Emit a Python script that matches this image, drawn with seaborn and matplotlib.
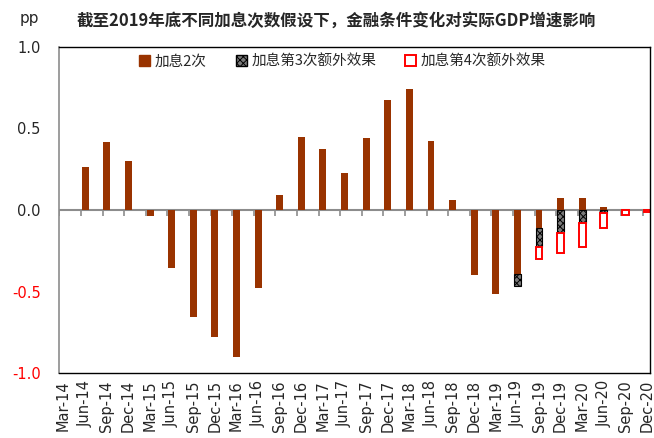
import numpy as np
import pandas as pd
import matplotlib
matplotlib.use("Agg")
import matplotlib.pyplot as plt
from matplotlib.patches import Patch
import seaborn as sns

# -----------------------------
# Data (pp)
# -----------------------------
quarters = ["Mar-14", "Jun-14", "Sep-14", "Dec-14",
            "Mar-15", "Jun-15", "Sep-15", "Dec-15",
            "Mar-16", "Jun-16", "Sep-16", "Dec-16",
            "Mar-17", "Jun-17", "Sep-17", "Dec-17",
            "Mar-18", "Jun-18", "Sep-18", "Dec-18",
            "Mar-19", "Jun-19", "Sep-19", "Dec-19",
            "Mar-20", "Jun-20", "Sep-20", "Dec-20"]

hike_2 = [0.0, 0.262, 0.415, 0.300,
          -0.035, -0.358, -0.658, -0.779,
          -0.902, -0.480, 0.092, 0.448,
          0.372, 0.225, 0.440, 0.673,
          0.744, 0.423, 0.060, -0.399,
          -0.517, -0.395, -0.112, 0.072,
          0.072, 0.020, 0.0, 0.0]

extra_3rd = [0.0] * 21 + [-0.070, -0.113, -0.139, -0.078, -0.020, 0.0, 0.0]

extra_4th = [0.0] * 22 + [-0.075, -0.125, -0.147, -0.090, -0.030, -0.010]

y_ticks = [-1.0, -0.5, 0.0, 0.5, 1.0]

title = "截至2019年底不同加息次数假设下，金融条件变化对实际GDP增速影响"
legend_labels = ["加息2次", "加息第3次额外效果", "加息第4次额外效果"]

brown = "#993300"
grey = "#8c8c8c"
hatch_grey = "#7a7a7a"

df = pd.DataFrame({"quarter": quarters, "hike2": hike_2,
                   "extra3": extra_3rd, "extra4": extra_4th})
df["x"] = np.arange(len(df))
# negatives stack below the base bar
df["base3"] = df["hike2"].clip(upper=0)
df["base4"] = df["base3"] + df["extra3"]

sns.set_theme(style="white")
plt.rcParams["font.family"] = ["DejaVu Sans", "Noto Sans CJK SC"]
plt.rcParams["axes.unicode_minus"] = False
plt.rcParams["hatch.linewidth"] = 0.7

fig = plt.figure(figsize=(6.54, 4.38), dpi=100)
ax = fig.add_axes([0.090, 0.148, 0.904, 0.745])

bw = 0.32

sns.barplot(data=df, x="quarter", y="hike2", order=quarters, color=brown,
            saturation=1, width=bw, linewidth=0, errorbar=None, ax=ax)

d3 = df[df["extra3"] != 0]
ax.bar(d3["x"], d3["extra3"], bottom=d3["base3"], width=bw, color=hatch_grey,
       edgecolor="black", hatch="xxxxx", linewidth=0.8)
d4 = df[df["extra4"] != 0]
ax.bar(d4["x"], d4["extra4"], bottom=d4["base4"], width=bw, facecolor="white",
       edgecolor="red", linewidth=1.4)

# zero line with small tick marks
ax.axhline(0, color=grey, lw=1.5, zorder=0.5)
ax.plot(df["x"] - 0.2, np.zeros(len(df)), ls="none", marker=3, ms=4, mew=1.2,
        color=grey, zorder=0.6)

ax.set_xlim(-0.22, 27.14)
ax.set_ylim(-1.0, 1.0)
ax.set_yticks(y_ticks)
ax.set_yticklabels([f"{v:.1f}" for v in y_ticks], fontsize=10.5)
for lab, v in zip(ax.get_yticklabels(), y_ticks):
    if v < 0:
        lab.set_color("red")
ax.set_xticks(df["x"])
ax.set_xticklabels(quarters, rotation=90, fontsize=10.5)
ax.tick_params(axis="x", length=0, pad=5)
ax.tick_params(axis="y", length=4, width=1, color=grey, direction="out", pad=9)
ax.set_xlabel("")
ax.set_ylabel("")

for side in ["top", "right", "bottom"]:
    ax.spines[side].set_color("black")
    ax.spines[side].set_linewidth(1.0)
ax.spines["left"].set_color(grey)
ax.spines["left"].set_linewidth(1.2)

handles = [Patch(facecolor=brown, edgecolor=brown),
           Patch(facecolor=hatch_grey, edgecolor="black", hatch="xxxxx"),
           Patch(facecolor="white", edgecolor="red", linewidth=1.4)]
ax.legend(handles, legend_labels, loc="center", bbox_to_anchor=(0.48, 0.955),
          ncol=3, frameon=False, handlelength=0.75, handleheight=0.75,
          handletextpad=0.3, columnspacing=2.0,
          prop={"family": "Noto Sans CJK SC", "size": 10.5})

fig.text(0.515, 0.953, title, ha="center", va="center", fontsize=11.9,
         fontweight="bold", family="Noto Sans CJK SC")
fig.text(0.03, 0.958, "pp", ha="left", va="center", fontsize=11)

fig.savefig("out.png", dpi=100)
